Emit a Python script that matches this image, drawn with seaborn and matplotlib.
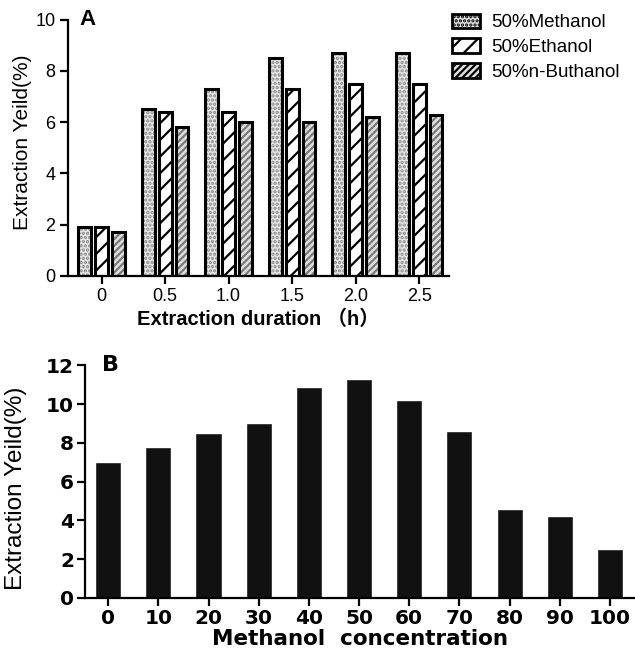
import numpy as np
import pandas as pd
import seaborn as sns
import matplotlib.pyplot as plt
from matplotlib.patches import Patch

# data
durations = ["0", "0.5", "1.0", "1.5", "2.0", "2.5"]
solvents = ["50%Methanol", "50%Ethanol", "50%n-Buthanol"]
methanol = [1.9, 6.5, 7.3, 8.5, 8.7, 8.7]
ethanol = [1.9, 6.4, 6.4, 7.3, 7.5, 7.5]
butanol = [1.7, 5.8, 6.0, 6.0, 6.2, 6.3]

concentrations = ["0", "10", "20", "30", "40", "50", "60", "70", "80", "90", "100"]
conc_yield = [7.0, 7.8, 8.5, 9.0, 10.9, 11.3, 10.2, 8.6, 4.6, 4.2, 2.5]

sns.set_style("ticks")
plt.rcParams['font.family'] = ['Liberation Sans', 'Noto Sans CJK SC', 'DejaVu Sans']
plt.rcParams['hatch.linewidth'] = 1.6
for k in ['text.color', 'axes.labelcolor', 'xtick.color', 'ytick.color', 'axes.edgecolor']:
    plt.rcParams[k] = 'black'

df_a = pd.DataFrame({
    "duration": durations * 3,
    "solvent": [solvents[0]] * 6 + [solvents[1]] * 6 + [solvents[2]] * 6,
    "yield": methanol + ethanol + butanol,
})
df_b = pd.DataFrame({"conc": concentrations, "yield": conc_yield})

fig = plt.figure(figsize=(6.35, 6.57), dpi=100)
ax1 = fig.add_axes([0.107, 0.58, 0.60, 0.39])
ax2 = fig.add_axes([0.134, 0.09, 0.866, 0.354])

# panel A
sns.barplot(data=df_a, x="duration", y="yield", hue="solvent", order=durations,
            hue_order=solvents, ax=ax1, width=0.8, legend=False)
face = ["#e6e6e6", "white", "#e0e0e0"]
hatches = ["....", "//", "/////"]
hcol = ["#8a8a8a", "black", "#7a7a7a"]
for i, cont in enumerate(ax1.containers):
    for bar in cont:
        x0 = bar.get_x()
        w = bar.get_width()
        bar.set_x(x0 + w * 0.12)
        bar.set_width(w * 0.76)
        bar.set_facecolor(face[i])
        bar.set_hatch(hatches[i])
        bar.set_edgecolor(hcol[i])
        bar.set_linewidth(0)
        ax1.add_patch(plt.Rectangle((bar.get_x(), 0), bar.get_width(), bar.get_height(),
                                    fill=False, edgecolor="black", linewidth=2.2, zorder=3))

ax1.set_xlim(-0.53, 5.47)
ax1.set_ylim(0, 10)
ax1.set_yticks([0, 2, 4, 6, 8, 10])
ax1.tick_params(labelsize=13, width=1.6, length=6, pad=3)
ax1.set_xlabel("Extraction duration （h）", fontsize=14.5, fontweight="bold", labelpad=3)
ax1.set_ylabel("Extraction Yeild(%)", fontsize=15)
ax1.yaxis.set_label_coords(-0.095, 0.52)
ax1.text(0.03, 1.0, "A", transform=ax1.transAxes, fontsize=16, fontweight="bold",
         va="center", ha="left")
for s in ["left", "bottom"]:
    ax1.spines[s].set_linewidth(1.6)
sns.despine(ax=ax1)

handles = [Patch(facecolor=face[i], hatch=hatches[i], edgecolor=hcol[i], linewidth=0)
           for i in range(3)]
leg = fig.legend(handles, solvents, loc="upper left", bbox_to_anchor=(0.685, 1.005),
                 frameon=False, fontsize=13.5, handlelength=1.5, handleheight=0.8,
                 labelspacing=0.38, handletextpad=0.6)
for p in leg.get_patches():
    p.set_edgecolor("black")
    p.set_linewidth(2)

# panel B
sns.barplot(data=df_b, x="conc", y="yield", order=concentrations, color="#111111",
            ax=ax2, width=0.52, saturation=1)
ax2.set_xlim(-0.46, 10.5)
ax2.set_ylim(0, 12)
ax2.set_yticks([0, 2, 4, 6, 8, 10, 12])
ax2.tick_params(width=1.6, length=6, pad=2)
for lab in ax2.get_xticklabels() + ax2.get_yticklabels():
    lab.set_fontsize(14.5)
    lab.set_fontweight("bold")
    lab.set_family(['DejaVu Sans'])
ax2.set_xlabel("Methanol  concentration", fontsize=15.5, fontweight="bold",
               family=['DejaVu Sans'], labelpad=1)
ax2.set_ylabel("Extraction Yeild(%)", fontsize=17.5)
ax2.yaxis.set_label_coords(-0.106, 0.47)
ax2.text(0.03, 1.0, "B", transform=ax2.transAxes, fontsize=16, fontweight="bold",
         family=['DejaVu Sans'], va="center", ha="left")
for s in ["left", "bottom"]:
    ax2.spines[s].set_linewidth(1.6)
sns.despine(ax=ax2)

fig.savefig("out.png", dpi=100)
